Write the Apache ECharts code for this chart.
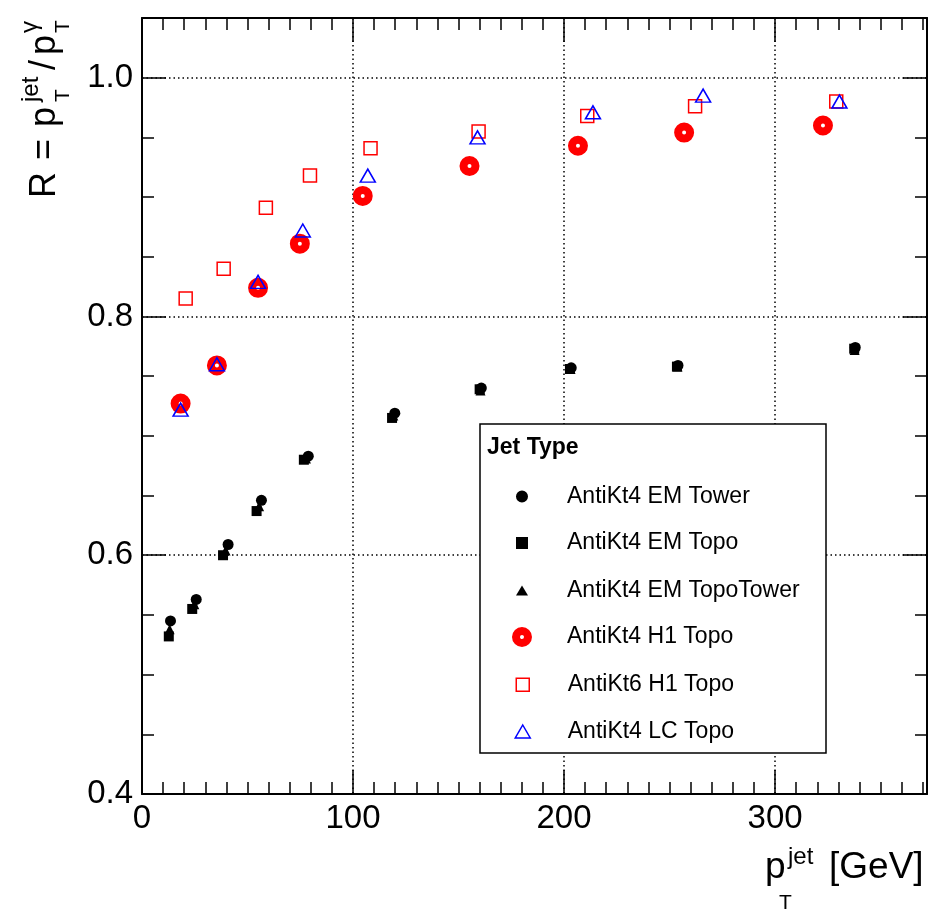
<!DOCTYPE html>
<html>
<head>
<meta charset="utf-8">
<script src="https://cdn.jsdelivr.net/npm/echarts@6/dist/echarts.min.js"></script>
<style>
html,body{margin:0;padding:0;background:#fff;}
#chart{width:933px;height:909px;}
</style>
</head>
<body>
<div id="chart"></div>
<script>
// ---- data (pT jet [GeV], response R) ----
const seriesNames = ['AntiKt4 EM Tower','AntiKt4 EM Topo','AntiKt4 EM TopoTower','AntiKt4 H1 Topo','AntiKt6 H1 Topo','AntiKt4 LC Topo'];

const emTowerX = [13.5, 25.7, 40.8, 56.6, 78.8, 119.8, 160.8, 203.4, 254.0, 338.0];
const emTowerY = [0.545, 0.563, 0.609, 0.646, 0.683, 0.719, 0.740, 0.757, 0.759, 0.774];

const emTopoX = [12.7, 23.8, 38.4, 54.3, 76.7, 118.5, 160.0, 202.8, 253.5, 337.5];
const emTopoY = [0.532, 0.555, 0.600, 0.637, 0.680, 0.715, 0.739, 0.756, 0.758, 0.773];

const emTopoTowerX = [13.1, 24.8, 39.6, 55.5, 77.7, 119.1, 160.4, 203.1, 253.8, 337.7];
const emTopoTowerY = [0.538, 0.559, 0.604, 0.641, 0.681, 0.717, 0.738, 0.756, 0.758, 0.772];

const h1TopoX = [18.3, 35.5, 55.0, 74.8, 104.6, 155.2, 206.6, 256.9, 322.7];
const h1TopoY = [0.727, 0.759, 0.824, 0.861, 0.901, 0.926, 0.943, 0.954, 0.960];

const kt6H1TopoX = [20.7, 38.7, 58.7, 79.6, 108.3, 159.5, 211.0, 262.1, 329.0];
const kt6H1TopoY = [0.815, 0.840, 0.891, 0.918, 0.941, 0.955, 0.968, 0.976, 0.980];

const lcTopoX = [18.3, 35.5, 55.0, 76.2, 107.0, 159.0, 213.7, 265.9, 330.5];
const lcTopoY = [0.722, 0.760, 0.829, 0.872, 0.918, 0.950, 0.971, 0.985, 0.980];

const xTickLabels = ['0', '100', '200', '300'];
const yTickLabels = ['0.4', '0.6', '0.8', '1.0'];

// ---- chart ----
const FONT = '"Liberation Sans", Arial, Helvetica, sans-serif';
const zip = (xs, ys) => xs.map((x, i) => [x, ys[i]]);
const chart = echarts.init(document.getElementById('chart'), null, {renderer: 'canvas'});

const GRID = {left: 142, right: 6, top: 18, bottom: 115};
const XMIN = 0, XMAX = 372, YMIN = 0.4, YMAX = 1.05;

function xAx(pos, interval, len, labels, split, line) {
  return {
    type: 'value', position: pos, min: XMIN, max: XMAX, interval: interval,
    axisLine: {show: line, onZero: false, lineStyle: {color: '#000', width: 2}},
    axisTick: {show: true, inside: true, length: len, lineStyle: {color: '#000', width: 1.5}},
    axisLabel: labels ? {
      show: true, color: '#000', fontSize: 33, fontFamily: FONT, margin: 8,
      showMaxLabel: false,
      formatter: v => { const s = String(Math.round(v)); return xTickLabels.indexOf(s) >= 0 ? s : ''; }
    } : {show: false},
    splitLine: {show: split, lineStyle: {color: '#000', width: 1.5, type: [1.5, 3]}}
  };
}
function yAx(pos, interval, len, labels, split, line) {
  return {
    type: 'value', position: pos, min: YMIN, max: YMAX, interval: interval,
    axisLine: {show: line, onZero: false, lineStyle: {color: '#000', width: 2}},
    axisTick: {show: true, inside: true, length: len, lineStyle: {color: '#000', width: 1.5}},
    axisLabel: labels ? {
      show: true, color: '#000', fontSize: 33, fontFamily: FONT, margin: 9,
      showMaxLabel: false,
      formatter: v => { const s = v.toFixed(1); return yTickLabels.indexOf(s) >= 0 ? s : ''; }
    } : {show: false},
    splitLine: {show: split, lineStyle: {color: '#000', width: 1.5, type: [1.5, 3]}}
  };
}

// text pieces helper for axis titles (baseline-based)
function piece(text, x, baseline, size) {
  return {type: 'text', x: x, y: baseline - 0.35 * size,
    style: {text: text, fontSize: size, fontFamily: FONT, fill: '#000', align: 'left', verticalAlign: 'middle'}};
}

const xTitle = [
  piece('p', 765, 881, 37),
  piece('jet', 788, 866, 24),
  piece('T', 779, 911, 21),
  piece('[GeV]', 829, 881, 37)
];
const yTitle = {
  type: 'group', x: 58, y: 198, rotation: Math.PI / 2,
  children: [
    piece('R', 0, 0, 36),
    piece('=', 38, 0, 36),
    piece('p', 71, 0, 36),
    piece('jet', 96, -18, 24),
    piece('T', 96, 13, 21),
    piece('/', 128, 0, 36),
    piece('p', 143, 0, 36),
    piece('\u03b3', 165, -19, 24),
    piece('T', 165, 13, 21)
  ]
};

const legendBox = {type: 'rect', shape: {x: 480, y: 424, width: 346, height: 329},
  style: {fill: '#fff', stroke: '#000', lineWidth: 1.5}, z: 5};
const legendTitle = {type: 'text', x: 487, y: 448, z: 6,
  style: {text: 'Jet Type', fontSize: 23, fontWeight: 'bold', fontFamily: FONT, fill: '#000', verticalAlign: 'middle'}};

const icons = [
  'path://M0 0M20 20M10 4A6 6 0 1 1 9.99 4Z',
  'path://M0 0M20 20M4 4H16V16H4Z',
  'path://M0 0M20 20M10 5L16 15H4Z',
  'path://M0 0M20 20M10 4A6 6 0 1 1 9.99 4Z',
  'path://M0 0M20 20M3.5 3.5H16.5V16.5H3.5Z',
  'path://M0 0M20 20M10 3.5L17.5 16.5H2.5Z'
];
const iconStyles = [
  {color: '#000', borderWidth: 0, opacity: 1},
  {color: '#000', borderWidth: 0, opacity: 1},
  {color: '#000', borderWidth: 0, opacity: 1},
  {color: '#fff', borderColor: '#ff0000', borderWidth: 8, opacity: 1},
  {color: 'rgba(255,255,255,0)', borderColor: '#ff0000', borderWidth: 1.5, opacity: 1},
  {color: 'rgba(255,255,255,0)', borderColor: '#0000ff', borderWidth: 1.5, opacity: 1}
];
const rowCenters = [495, 541.5, 589, 636.5, 683.3, 730];
const rowLeft = [512, 512, 512, 508, 512, 512];
const rowTopAdj = [0, 0, 0, -3.5, 0, 0];
const legends = seriesNames.map((n, i) => ({
  orient: 'vertical', left: rowLeft[i], top: rowCenters[i] - 10 + rowTopAdj[i], itemWidth: 80, itemHeight: 20,
  padding: 0, z: 10, selectedMode: false,
  textStyle: {fontSize: 23, color: '#000', fontFamily: FONT, lineHeight: 20},
  data: [{name: n, icon: icons[i], itemStyle: iconStyles[i]}]
}));

const option = {
  animation: false,
  backgroundColor: '#fff',
  grid: GRID,
  xAxis: [
    xAx('bottom', 100, 24, true, true, true),
    xAx('bottom', 10, 12, false, false, false),
    xAx('top', 100, 24, false, false, true),
    xAx('top', 10, 12, false, false, false)
  ],
  yAxis: [
    yAx('left', 0.2, 24, true, true, true),
    yAx('left', 0.05, 12, false, false, false),
    yAx('right', 0.2, 24, false, false, true),
    yAx('right', 0.05, 12, false, false, false)
  ],
  legend: legends,
  graphic: [legendBox, legendTitle, yTitle].concat(xTitle),
  series: [
    {name: seriesNames[0], type: 'scatter', data: zip(emTowerX, emTowerY), symbol: 'circle', symbolSize: 11,
      itemStyle: {color: '#000', opacity: 1}},
    {name: seriesNames[1], type: 'scatter', data: zip(emTopoX, emTopoY), symbol: 'rect', symbolSize: 10,
      itemStyle: {color: '#000', opacity: 1}},
    {name: seriesNames[2], type: 'scatter', data: zip(emTopoTowerX, emTopoTowerY), symbol: 'triangle', symbolSize: 10,
      itemStyle: {color: '#000', opacity: 1}},
    {name: seriesNames[3], type: 'scatter', data: zip(h1TopoX, h1TopoY), symbol: 'circle', symbolSize: 12,
      itemStyle: {color: '#fff', borderColor: '#ff0000', borderWidth: 8, opacity: 1}},
    {name: seriesNames[4], type: 'scatter', data: zip(kt6H1TopoX, kt6H1TopoY), symbol: 'rect', symbolSize: 13,
      itemStyle: {color: 'rgba(255,255,255,0)', borderColor: '#ff0000', borderWidth: 1.5, opacity: 1}},
    {name: seriesNames[5], type: 'scatter', data: zip(lcTopoX, lcTopoY), symbol: 'triangle', symbolSize: [15, 13],
      itemStyle: {color: 'rgba(255,255,255,0)', borderColor: '#0000ff', borderWidth: 1.5, opacity: 1}}
  ]
};
chart.setOption(option);
</script>
</body>
</html>
